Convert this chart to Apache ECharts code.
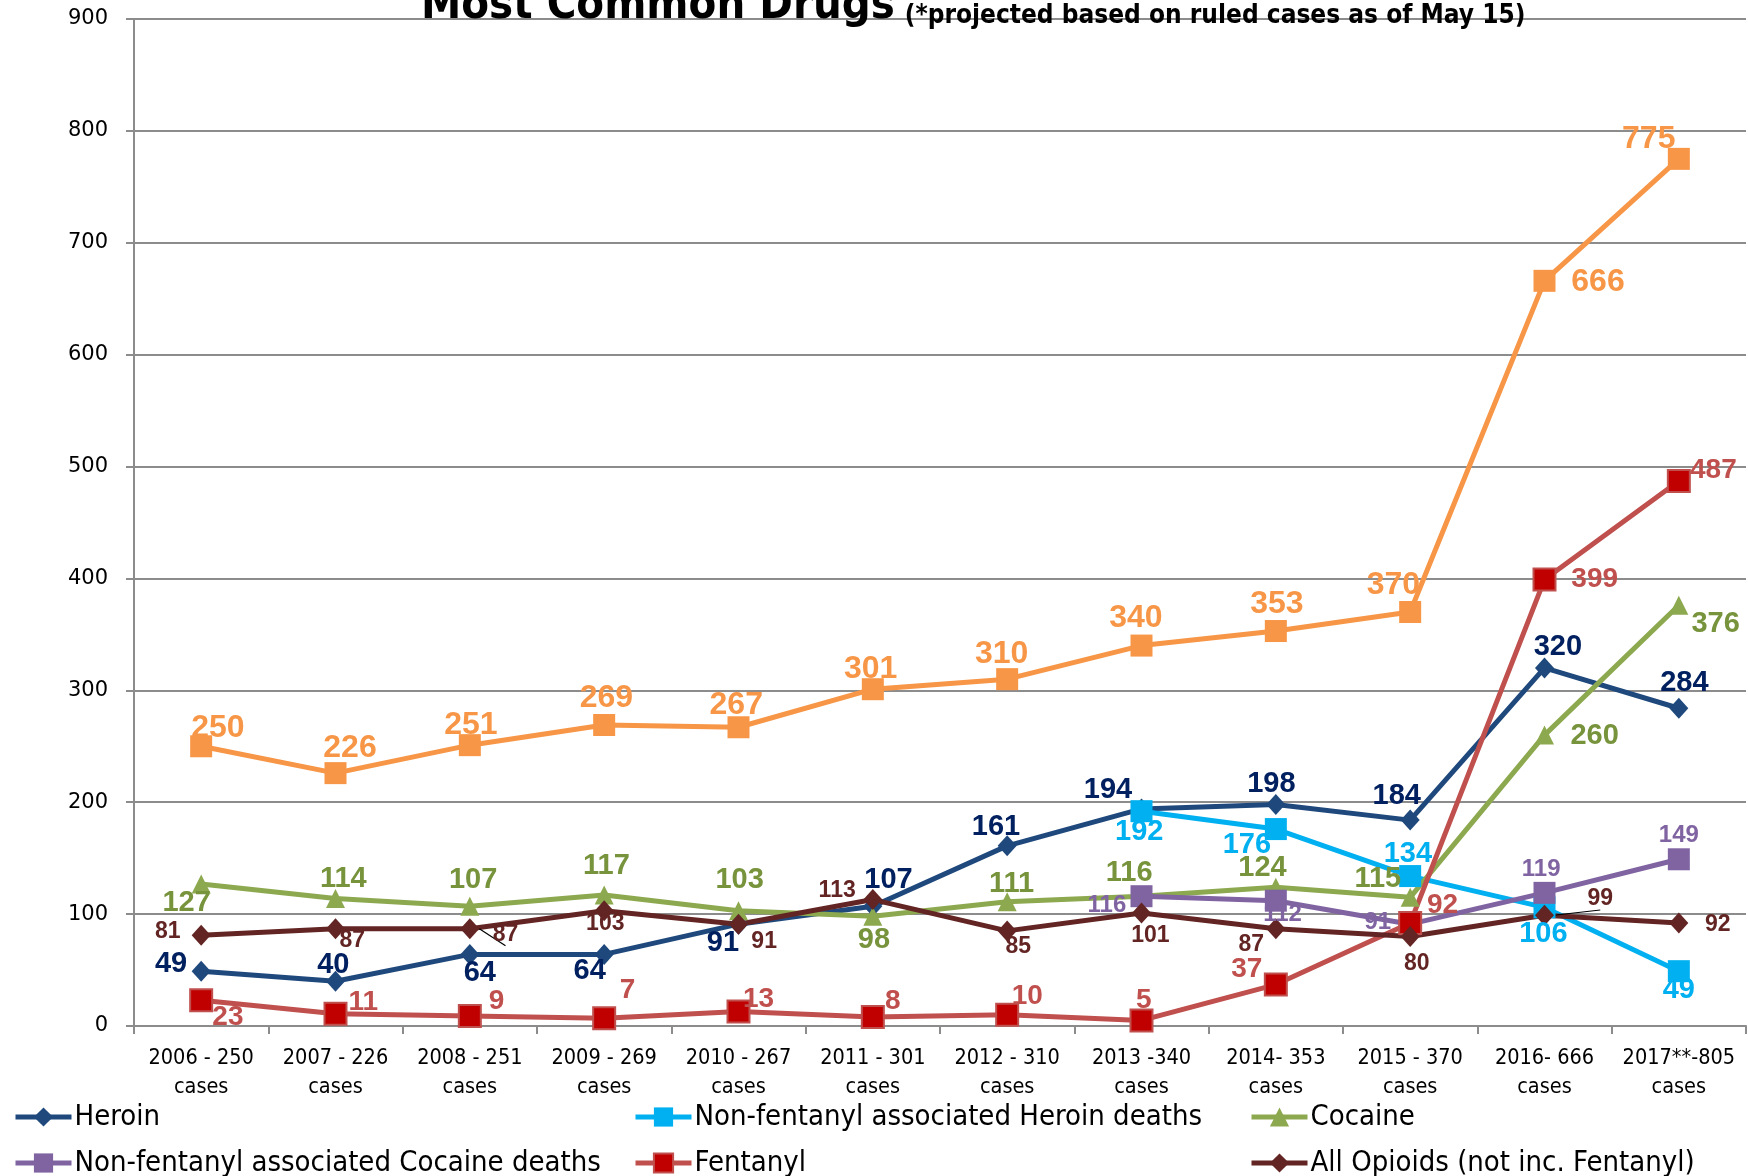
<!DOCTYPE html>
<html>
<head>
<meta charset="utf-8">
<script src="https://cdn.jsdelivr.net/npm/echarts@6/dist/echarts.min.js"></script>
<style>
html,body{margin:0;padding:0;background:#fff;}
#chart{width:1748px;height:1176px;}
</style>
</head>
<body>
<div id="chart"></div>
<script>
// ---------- data ----------
const categories = ["2006 - 250\ncases","2007 - 226\ncases","2008 - 251\ncases","2009 - 269\ncases","2010 - 267\ncases","2011 - 301\ncases","2012 - 310\ncases","2013 -340\ncases","2014- 353\ncases","2015 - 370\ncases","2016- 666\ncases","2017**-805\ncases"];
const totalCases = [250,226,251,269,267,301,310,340,353,370,666,775];
const heroin     = [49,40,64,64,91,107,161,194,198,184,320,284];
const nfHeroin   = [null,null,null,null,null,null,null,192,176,134,106,49];
const cocaine    = [127,114,107,117,103,98,111,116,124,115,260,376];
const nfCocaine  = [null,null,null,null,null,null,null,116,112,91,119,149];
const fentanyl   = [23,11,9,7,13,8,10,5,37,92,399,487];
const opioids    = [81,87,87,103,91,113,85,101,87,80,99,92];
const yMin = 0, yMax = 900, yStep = 100;

// ---------- label placement (style only) ----------
const K = 1748/1568;
const totalOff    = [[15,-16],[13,-22],[1,-18],[2,-24],[-2,-20],[-2,-18],[-5,-22],[-5,-25],[1,-24],[-15,-24],[48,1],[-27,-18]];
const heroinOff   = [[-27,-6],[-2,-15],[9,17],[-13,15],[-14,17],[14,-24],[-10,-17],[-30,-17],[-4,-18],[-12,-22],[12,-19],[5,-23]];
const nfHeroinOff = [null,null,null,null,null,null,null,[-2,19],[-26,14],[-2,-20],[-1,24],[0,17]];
const cocaineOff  = [[-13,17],[7,-17],[3,-24],[2,-26],[1,-28],[1,21],[4,-16],[-11,-21],[-12,-17],[-29,-16],[45,1],[33,17]];
const nfCocaineOff= [null,null,null,null,null,null,null,[-31,8],[6,12],[-29,-2],[-3,-21],[0,-21]];
const fentanylOff = [[24,15],[25,-10],[24,-13],[21,-25],[18,-11],[18,-14],[18,-17],[2,-18],[-26,-14],[29,-16],[45,0],[31,-10]];
const opioidOff   = [[-30,-3],[15,11],[32,5],[1,12],[23,16],[-32,-8],[10,14],[8,20],[-22,14],[6,24],[50,-15],[35,1]];
const opioidLeader = [2,10];

const NARROW = '"Liberation Sans Narrow","DejaVu Sans Condensed","Roboto Condensed","Liberation Sans",sans-serif';
const BOLD = '"Liberation Sans",Arial,sans-serif';

function buildData(values, offs, leaders){
  return values.map((v,i)=>{
    if (v === null) return null;
    const o = offs[i] || [0,0];
    const item = {value: v, label: {offset: [o[0]*K, o[1]*K]}};
    if (leaders && leaders.indexOf(i) >= 0) {
      item.labelLine = {show: true, lineStyle: {color: '#000', width: 1.2}};
    }
    return item;
  });
}

function mkSeries(name, values, offs, opt){
  return {
    name: name,
    type: 'line',
    data: buildData(values, offs, opt.leaders),
    symbol: opt.symbol,
    symbolSize: opt.size,
    connectNulls: false,
    lineStyle: {color: opt.line, width: 5},
    itemStyle: {color: opt.fill || opt.line, borderColor: opt.border || opt.fill || opt.line, borderWidth: opt.borderWidth || 0},
    label: {
      show: true, position: 'inside',
      color: opt.labelColor, fontFamily: BOLD, fontWeight: 'bold', fontSize: opt.labelSize
    },
    z: opt.z || 2
  };
}

const series = [
  mkSeries('Total Cases', totalCases, totalOff, {symbol:'rect', size:22, line:'#F79646', labelColor:'#F79646', labelSize:32}),
  mkSeries('Heroin', heroin, heroinOff, {symbol:'diamond', size:[19,21], line:'#1F497D', labelColor:'#002060', labelSize:29}),
  mkSeries('Non-fentanyl associated Heroin deaths', nfHeroin, nfHeroinOff, {symbol:'rect', size:22, line:'#00B0F0', labelColor:'#00B0F0', labelSize:29}),
  mkSeries('Cocaine', cocaine, cocaineOff, {symbol:'triangle', size:[19,19], line:'#8DA94F', labelColor:'#77933C', labelSize:29}),
  mkSeries('Non-fentanyl associated Cocaine deaths', nfCocaine, nfCocaineOff, {symbol:'rect', size:22, line:'#8064A2', labelColor:'#8064A2', labelSize:24}),
  mkSeries('Fentanyl', fentanyl, fentanylOff, {symbol:'rect', size:22, line:'#C0504D', fill:'#C00000', border:'#C0504D', borderWidth:2, labelColor:'#C0504D', labelSize:28}),
  mkSeries('All Opioids (not inc. Fentanyl)', opioids, opioidOff, {symbol:'diamond', size:[19,21], line:'#632523', labelColor:'#632523', labelSize:23, leaders: opioidLeader})
];

const legendCommon = {
  orient: 'vertical', top: 1100, height: 120, padding: 0,
  itemWidth: 56, itemHeight: 24, itemGap: 12,
  lineStyle: {width: 5},
  textStyle: {fontFamily: NARROW, fontSize: 29, color: '#000', lineHeight: 34, padding: [0,0,0,-2]}
};

const chart = echarts.init(document.getElementById('chart'), null, {renderer: 'canvas'});
chart.setOption({
  animation: false,
  backgroundColor: '#fff',
  title: {
    left: 421, top: -27, padding: 0,
    text: '{a|Most Common Drugs}  {b|(*projected based on ruled cases as of May 15)}',
    textStyle: {
      rich: {
        a: {fontFamily: NARROW, fontWeight: 'bold', fontSize: 45, color: '#000', verticalAlign: 'bottom', lineHeight: 56},
        b: {fontFamily: NARROW, fontWeight: 'bold', fontSize: 26, color: '#000', verticalAlign: 'bottom', lineHeight: 56}
      }
    }
  },
  legend: [
    Object.assign({left: 13, data: ['Heroin', 'Non-fentanyl associated Cocaine deaths']}, legendCommon),
    Object.assign({left: 633, data: ['Non-fentanyl associated Heroin deaths', 'Fentanyl']}, legendCommon),
    Object.assign({left: 1249, data: ['Cocaine', 'All Opioids (not inc. Fentanyl)']}, legendCommon)
  ],
  grid: {left: 134, right: 2, top: 19, bottom: 150, containLabel: false},
  xAxis: {
    type: 'category', data: categories, boundaryGap: true,
    axisLine: {lineStyle: {color: '#8c8c8c', width: 2}},
    axisTick: {show: true, length: 8, inside: false, lineStyle: {color: '#8c8c8c', width: 2}},
    axisLabel: {interval: 0, fontFamily: NARROW, fontSize: 21.5, lineHeight: 29, color: '#000', margin: 18}
  },
  yAxis: {
    type: 'value', min: yMin, max: yMax, interval: yStep,
    axisLine: {show: true, lineStyle: {color: '#8c8c8c', width: 2}},
    axisTick: {show: true, length: 8, lineStyle: {color: '#8c8c8c', width: 2}},
    splitLine: {show: true, lineStyle: {color: '#8c8c8c', width: 2}},
    axisLabel: {fontFamily: '"DejaVu Sans",sans-serif', fontSize: 21, color: '#000', margin: 26}
  },
  series: series
});
</script>
</body>
</html>
